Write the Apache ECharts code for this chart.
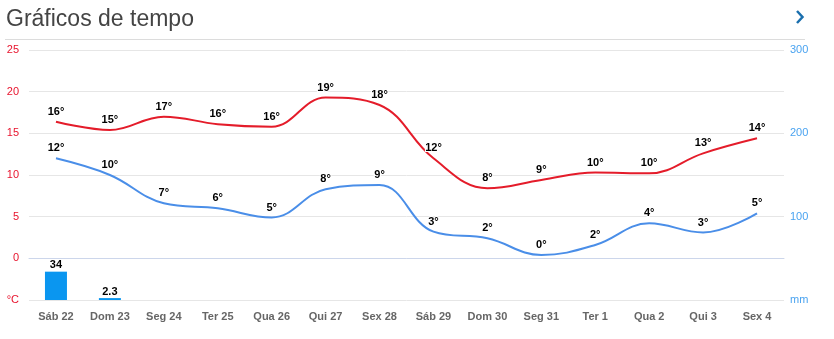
<!DOCTYPE html>
<html><head><meta charset="utf-8">
<script src="https://cdn.jsdelivr.net/npm/echarts@6/dist/echarts.min.js"></script>
<style>html,body{margin:0;padding:0;background:#fff}#c{width:834px;height:339px}</style>
</head><body><div id="c"></div>
<script>
const categories = ['Sáb 22','Dom 23','Seg 24','Ter 25','Qua 26','Qui 27','Sex 28','Sáb 29','Dom 30','Seg 31','Ter 1','Qua 2','Qui 3','Sex 4'];
const tempMax = [16.4,15.4,17.0,16.1,15.8,19.3,18.4,12.0,8.4,9.4,10.3,10.2,12.6,14.4];
const tempMin = [12.0,10.0,6.6,6.0,4.9,8.3,8.8,3.2,2.4,0.4,1.6,4.2,3.1,5.4];
const rain = [34,2.3,null,null,null,null,null,null,null,null,null,null,null,null];
const tempTicks = [-5,25,5];
const rainTicks = [0,300,50];

const chart = echarts.init(document.getElementById('c'), null, {renderer:'canvas'});
const font = 'Liberation Sans, Arial, sans-serif';
const lbl = {show:true, position:'top', distance:4, color:'#000', fontSize:11, fontWeight:'bold', fontFamily:font,
  textBorderColor:'#fff', textBorderWidth:2, formatter:p=>Math.round(p.value)+'°'};
chart.setOption({
  animation:false,
  title:{text:'Gráficos de tempo', left:1, top:3, textStyle:{fontSize:23, fontWeight:'normal', color:'#444', fontFamily:font}},
  graphic:[
    {type:'line', shape:{x1:5,y1:39.5,x2:805,y2:39.5}, style:{stroke:'#dcdcdc', lineWidth:1}},
    {type:'polyline', shape:{points:[[797,11],[802.5,17],[797,23]]}, style:{stroke:'#1a6fae', lineWidth:2.5, fill:null}}
  ],
  grid:{left:29, right:50, top:50, bottom:39},
  xAxis:{type:'category', data:categories, boundaryGap:true,
    axisLine:{lineStyle:{color:'#ccd6eb'}},
    axisTick:{alignWithLabel:true, length:8, lineStyle:{color:'#ccd6eb'}},
    axisLabel:{color:'#666', fontSize:11, fontWeight:'bold', fontFamily:font, margin:11}},
  yAxis:[
    {type:'value', min:tempTicks[0], max:tempTicks[1], interval:tempTicks[2],
      axisLine:{show:false}, axisTick:{show:false},
      splitLine:{lineStyle:{color:'#e6e6e6'}},
      axisLabel:{color:'#e8132d', fontSize:11, fontFamily:font, margin:10,
        formatter:v=> v===tempTicks[0] ? '°C' : String(v)}},
    {type:'value', min:rainTicks[0], max:rainTicks[1], interval:rainTicks[2],
      axisLine:{show:false}, axisTick:{show:false}, splitLine:{show:false},
      axisLabel:{color:'#4aa3f0', fontSize:11, fontFamily:font, margin:6,
        formatter:v=> v===0 ? 'mm' : (v%100===0 ? String(v) : '')}}
  ],
  series:[
    {type:'bar', yAxisIndex:1, data:rain, barWidth:22, itemStyle:{color:'#0a96f0'},
      label:{show:true, position:'top', distance:1, color:'#000', fontSize:11, fontWeight:'bold', fontFamily:font,
        textBorderColor:'#fff', textBorderWidth:2}},
    {type:'line', data:tempMax, smooth:0.4, symbol:'circle', symbolSize:1, showSymbol:true,
      itemStyle:{color:'rgba(0,0,0,0)'}, lineStyle:{color:'#e41c2a', width:2}, label:lbl, z:3},
    {type:'line', data:tempMin, smooth:0.4, symbol:'circle', symbolSize:1, showSymbol:true,
      itemStyle:{color:'rgba(0,0,0,0)'}, lineStyle:{color:'#4a8ee8', width:2}, label:lbl, z:3}
  ]
});
</script></body></html>
